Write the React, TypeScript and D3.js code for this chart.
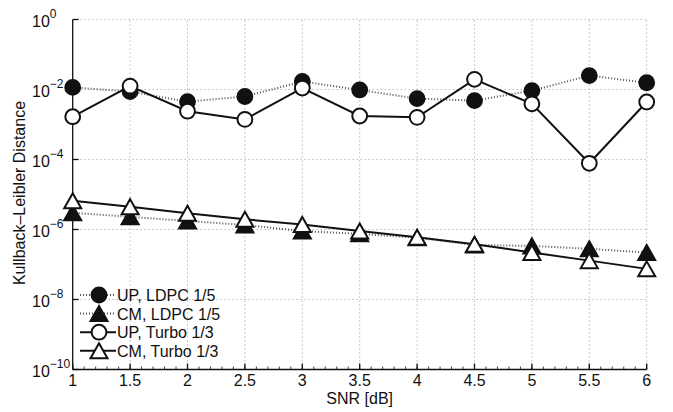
import React from 'react';
import * as d3 from 'd3';

const snr = [1, 1.5, 2, 2.5, 3, 3.5, 4, 4.5, 5, 5.5, 6];
const upLdpc = [1.15e-2, 8.7e-3, 4.5e-3, 6.3e-3, 1.7e-2, 9.7e-3, 5.5e-3, 4.8e-3, 9.3e-3, 2.5e-2, 1.56e-2];
const cmLdpc = [3.0e-6, 2.3e-6, 1.75e-6, 1.35e-6, 9.0e-7, 7.5e-7, 5.8e-7, 3.6e-7, 3.4e-7, 2.8e-7, 2.2e-7];
const upTurbo = [1.67e-3, 1.25e-2, 2.4e-3, 1.4e-3, 1.1e-2, 1.75e-3, 1.6e-3, 1.95e-2, 3.9e-3, 7.8e-5, 4.4e-3];
const cmTurbo = [6.6e-6, 4.5e-6, 2.9e-6, 1.95e-6, 1.4e-6, 9.0e-7, 6.0e-7, 3.8e-7, 2.2e-7, 1.29e-7, 7.5e-8];

const xTicks = [1, 1.5, 2, 2.5, 3, 3.5, 4, 4.5, 5, 5.5, 6];
const yTickExps = [0, -2, -4, -6, -8, -10];
const legendLabels = ['UP, LDPC 1/5', 'CM, LDPC 1/5', 'UP, Turbo 1/3', 'CM, Turbo 1/3'];

const W = 673, H = 412;
const m = { left: 72.7, right: 673 - 646.7, top: 19.5, bottom: 412 - 369.5 };
const font = 'Liberation Sans, Arial, Helvetica, sans-serif';

type Kind = 'circle' | 'triangle';

const Marker = ({ kind, filled, x, y }: { kind: Kind; filled: boolean; x: number; y: number }) => {
  const fill = filled ? '#111' : '#fff';
  if (kind === 'circle') {
    return <circle cx={x} cy={y} r={7.4} fill={fill} stroke="#111" strokeWidth={2} />;
  }
  const h = 15, w = 17;
  const d = `M${x},${y - h / 2}L${x + w / 2},${y + h / 2}L${x - w / 2},${y + h / 2}Z`;
  return <path d={d} fill={fill} stroke="#111" strokeWidth={2} strokeLinejoin="miter" />;
};

export default function App() {
  const x = d3.scaleLinear().domain([1, 6]).range([m.left, W - m.right]);
  const y = d3.scaleLog().domain([1e-10, 1]).range([H - m.bottom, m.top]);

  const line = d3.line<number>().x((_, i) => x(snr[i])).y(d => y(d));

  const series = [
    { data: upLdpc, kind: 'circle' as Kind, filled: true, dotted: true },
    { data: cmLdpc, kind: 'triangle' as Kind, filled: true, dotted: true },
    { data: upTurbo, kind: 'circle' as Kind, filled: false, dotted: false },
    { data: cmTurbo, kind: 'triangle' as Kind, filled: false, dotted: false },
  ];

  const minor = d3.range(1, 6.001, 0.1);
  const x0 = x.range()[0], x1 = x.range()[1];
  const yb = y.range()[0], yt = y.range()[1];

  const lineStyle = (dotted: boolean) =>
    dotted
      ? { stroke: '#555', strokeWidth: 2, strokeDasharray: '1 2' }
      : { stroke: '#111', strokeWidth: 2 };

  return (
    <svg width={W} height={H} style={{ position: 'absolute', left: 0, top: 0, background: '#fff' }} fontFamily={font}>
      {/* grid */}
      <g stroke="#999" strokeWidth={1} strokeDasharray="1 3">
        {xTicks.slice(1).map(t => (
          <line key={'gx' + t} x1={x(t)} x2={x(t)} y1={yb} y2={yt} />
        ))}
        {yTickExps.slice(0, -1).map(e => (
          <line key={'gy' + e} x1={x0} x2={x1} y1={y(Math.pow(10, e))} y2={y(Math.pow(10, e))} />
        ))}
      </g>

      {/* axes */}
      <g stroke="#111" strokeWidth={1.3}>
        <line x1={x0} x2={x0} y1={yt} y2={yb} />
        <line x1={x0} x2={x1} y1={yb} y2={yb} />
        {minor.map((t, i) => (
          <line key={'mn' + i} x1={x(t)} x2={x(t)} y1={yb} y2={yb - 3} strokeWidth={0.8} />
        ))}
        {xTicks.map(t => (
          <line key={'mj' + t} x1={x(t)} x2={x(t)} y1={yb} y2={yb - 6} />
        ))}
        {yTickExps.map(e => (
          <line key={'yt' + e} x1={x0} x2={x0 + 6} y1={y(Math.pow(10, e))} y2={y(Math.pow(10, e))} />
        ))}
      </g>

      {/* tick labels */}
      <g fontSize={16} fill="#111">
        {xTicks.map(t => (
          <text key={'xl' + t} x={x(t)} y={yb + 16} textAnchor="middle">{String(t)}</text>
        ))}
        {yTickExps.map(e => (
          <text key={'yl' + e} x={32} y={y(Math.pow(10, e)) + 7}>
            10<tspan fontSize={12} dy={-8.5}>{e === 0 ? '0' : '\u2212' + Math.abs(e)}</tspan>
          </text>
        ))}
      </g>

      <text x={(x0 + x1) / 2} y={404} textAnchor="middle" fontSize={16} fill="#111">SNR [dB]</text>
      <text transform={`translate(25,193) rotate(-90)`} textAnchor="middle" fontSize={16} fill="#111">
        Kullback–Leibler Distance
      </text>

      {/* series lines */}
      {series.map((s, i) => (
        <path key={'ln' + i} d={line(s.data) || ''} fill="none" {...lineStyle(s.dotted)} />
      ))}

      {/* markers */}
      {series.map((s, i) => (
        <g key={'mk' + i}>
          {s.data.map((v, j) => (
            <Marker key={j} kind={s.kind} filled={s.filled} x={x(snr[j])} y={y(v)} />
          ))}
        </g>
      ))}

      {/* legend */}
      <g>
        {series.map((s, i) => {
          const ly = 295 + i * 18.6;
          return (
            <g key={'lg' + i}>
              <line x1={80} x2={116} y1={ly} y2={ly} {...lineStyle(s.dotted)} />
              <Marker kind={s.kind} filled={s.filled} x={99} y={ly} />
              <text x={117} y={ly + 6} fontSize={16} fill="#111">{legendLabels[i]}</text>
            </g>
          );
        })}
      </g>
    </svg>
  );
}
